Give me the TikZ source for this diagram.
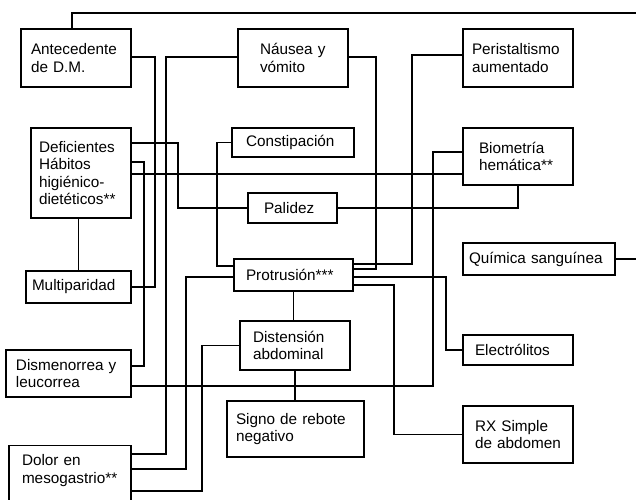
\documentclass[tikz,border=0pt]{standalone}
\usepackage{fontspec}
\setmainfont{Liberation Sans}
\hyphenpenalty=10000
\tikzset{
  box/.style={draw, line width=1.2pt, inner ysep=0pt, align=left, font=\fontsize{15.3}{17.5}\selectfont},
  link/.style={line width=1.2pt}
}
\begin{document}
\begin{tikzpicture}[x=1pt,y=-1pt]
\useasboundingbox (0,0) rectangle (636,499);
\node[box, text width=90pt, inner xsep=10pt, minimum height=58pt] (ante) at (76,58) {Antecedente\\de D.M.};
\node[box, text width=66pt, inner xsep=22pt, minimum height=58pt] (naus) at (293,58) {Náusea y\\vómito};
\node[box, text width=92pt, inner xsep=9pt, minimum height=58pt] (peri) at (518,58) {Peristaltismo\\aumentado};
\node[box, text width=84pt, inner xsep=8pt, minimum height=90pt] (def) at (81,173) {Deficientes\\Hábitos\\higiénico-\\dietéticos**};
\node[box, text width=94pt, inner xsep=14pt, minimum height=29pt] (cons) at (293,142.5) {Constipación};
\node[box, text width=78pt, inner xsep=16pt, minimum height=57pt] (biom) at (518,156.5) {Biometría\\hemática**};
\node[box, text width=57pt, inner xsep=16pt, minimum height=30pt] (pal) at (292.5,208) {Palidez};
\node[box, text width=140pt, inner xsep=6pt, minimum height=32pt] (quim) at (539,259) {Química sanguínea};
\node[box, text width=93pt, inner xsep=6pt, minimum height=32pt] (mult) at (78.5,287) {Multiparidad};
\node[box, text width=95pt, inner xsep=12pt, minimum height=32pt] (prot) at (293.5,275) {Protrusión***};
\node[box, text width=84pt, inner xsep=13pt, minimum height=49pt] (dist) at (295,345.5) {Distensión\\abdominal};
\node[box, text width=105pt, inner xsep=10pt, minimum height=47pt] (dism) at (68.5,373.5) {Dismenorrea y\\leucorrea};
\node[box, text width=86pt, inner xsep=12pt, minimum height=30pt] (elec) at (518,350) {Electrólitos};
\node[box, text width=119pt, inner xsep=9pt, minimum height=56pt] (sig) at (295.5,429) {Signo de rebote\\negativo};
\node[box, text width=86pt, inner xsep=12pt, minimum height=57pt] (rx) at (518,434.5) {RX Simple\\de abdomen};
\node[box, text width=96pt, inner xsep=13pt, inner ysep=9pt, text depth=60pt, anchor=north] (dol) at (70,445) {Dolor en\\mesogastrio**};

\draw[link] (ante.north -| 72,0) -- (72,13) -- (645,13) -- (645,259) -- (quim.east);
\draw[link] (ante.east |- 0,57) -- (155,57) |- (mult.east);
\draw[link] (def.east |- 0,143) -- (178,143) |- (pal.west);
\draw[link] (def.east |- 0,162) -- (144,162) |- (dism.east |- 0,366);
\draw[link] (def.east |- 0,174) -- (biom.west |- 0,174);
\draw[link] (def.south -| mult.north) -- (mult.north);
\draw[link] (naus.west |- 0,57) -- (166,57) |- (dol.east |- 0,454);
\draw[link] (naus.east |- 0,57) -- (376,57) |- (prot.east |- 0,269);
\draw[link] (peri.west |- 0,55) -- (412,55) |- (prot.east |- 0,264);
\draw[link] (biom.west |- 0,152) -- (433,152) |- (dism.east |- 0,386);
\draw[link] (biom.south) |- (pal.east);
\draw[link] (prot.east |- 0,277) -- (446,277) |- (elec.west);
\draw[link] (prot.east |- 0,285) -- (394,285) |- (rx.west);
\draw[link] (cons.west) -| (217,266) -- (prot.west |- 0,266);
\draw[link] (prot.west |- 0,277) -- (186,277) |- (dol.east |- 0,469);
\draw[link] (dist.west) -| (202,491) -- (dol.east |- 0,491);
\draw[link] (prot.south) -- (prot.south |- dist.north);
\draw[link] (dist.south) -- (dist.south |- sig.north);

\end{tikzpicture}
\end{document}
